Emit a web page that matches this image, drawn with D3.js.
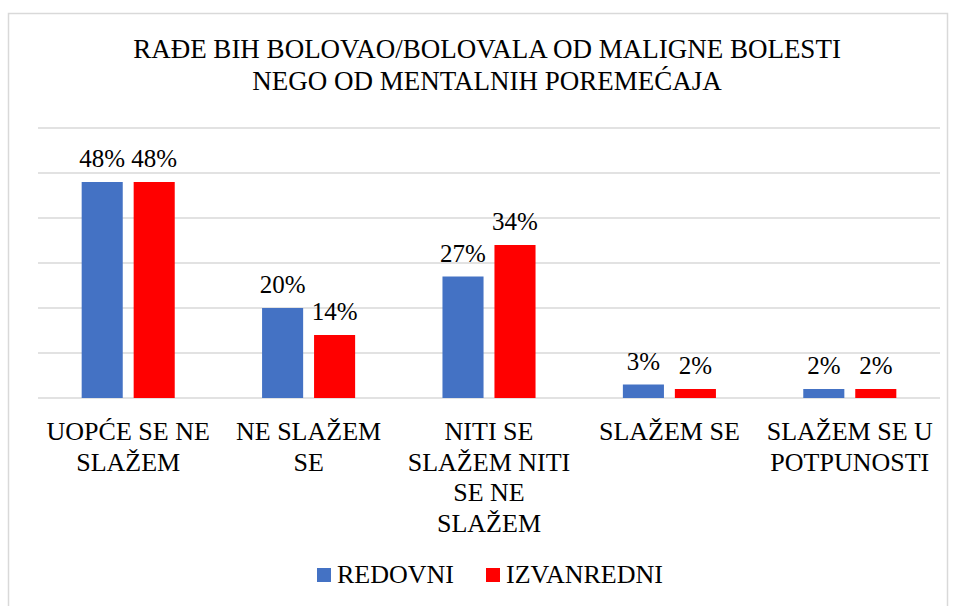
<!DOCTYPE html>
<html>
<head>
<meta charset="utf-8">
<script src="https://cdn.jsdelivr.net/npm/d3@7"></script>
<style>
  body { margin: 0; background: #fff; }
</style>
</head>
<body>
<div id="chart"></div>
<script>
var titleLines = ["RAĐE BIH BOLOVAO/BOLOVALA OD MALIGNE BOLESTI", "NEGO OD MENTALNIH POREMEĆAJA"];
var categories = ["UOPĆE SE NE SLAŽEM", "NE SLAŽEM SE", "NITI SE SLAŽEM NITI SE NE SLAŽEM", "SLAŽEM SE", "SLAŽEM SE U POTPUNOSTI"];
var categoryLines = [
  ["UOPĆE SE NE", "SLAŽEM"],
  ["NE SLAŽEM", "SE"],
  ["NITI SE", "SLAŽEM NITI", "SE NE", "SLAŽEM"],
  ["SLAŽEM SE"],
  ["SLAŽEM SE U", "POTPUNOSTI"]
];
var seriesNames = ["REDOVNI", "IZVANREDNI"];
var seriesColors = ["#4472c4", "#ff0000"];
var redovni = [48, 20, 27, 3, 2];
var izvanredni = [48, 14, 34, 2, 2];
var yTicks = [0, 10, 20, 30, 40, 50, 60];

var FONT = "Liberation Serif";
var width = 956, height = 606;
var svg = d3.select("#chart").append("svg")
    .attr("width", width)
    .attr("height", height)
    .attr("font-family", FONT);

// outer chart border
svg.append("rect")
    .attr("x", 8.5).attr("y", 13.5)
    .attr("width", 939).attr("height", 600)
    .attr("fill", "none")
    .attr("stroke", "#d9d9d9")
    .attr("stroke-width", 1.5);

var plotLeft = 38, plotRight = 940;
var x = d3.scaleBand().domain(categories).range([plotLeft, plotRight]);
var xs = d3.scaleBand().domain(seriesNames).range([0, x.bandwidth()]).paddingInner(0.21).paddingOuter(0.84);
var y = d3.scaleLinear().domain([0, 60]).range([398, 128]);

// gridlines
svg.append("g").selectAll("line")
    .data(yTicks)
  .enter().append("line")
    .attr("x1", plotLeft).attr("x2", plotRight)
    .attr("y1", function(d) { return y(d); })
    .attr("y2", function(d) { return y(d); })
    .attr("stroke", "#d9d9d9")
    .attr("stroke-width", 1.5);

// title
svg.append("g").selectAll("text")
    .data(titleLines)
  .enter().append("text")
    .attr("x", 487)
    .attr("y", function(d, i) { return 58 + i * 32; })
    .attr("text-anchor", "middle")
    .attr("font-size", 27)
    .text(function(d) { return d; });

var series = [redovni, izvanredni];
var groups = svg.append("g").selectAll("g")
    .data(series)
  .enter().append("g");

groups.selectAll("rect")
    .data(function(d, si) { return d.map(function(v, ci) { return { v: v, c: categories[ci], s: si }; }); })
  .enter().append("rect")
    .attr("x", function(d) { return x(d.c) + xs(seriesNames[d.s]); })
    .attr("y", function(d) { return y(d.v); })
    .attr("width", xs.bandwidth())
    .attr("height", function(d) { return y(0) - y(d.v); })
    .attr("fill", function(d) { return seriesColors[d.s]; });

groups.selectAll("text")
    .data(function(d, si) { return d.map(function(v, ci) { return { v: v, c: categories[ci], s: si }; }); })
  .enter().append("text")
    .attr("x", function(d) { return x(d.c) + xs(seriesNames[d.s]) + xs.bandwidth() / 2; })
    .attr("y", function(d) { return y(d.v) - 15; })
    .attr("text-anchor", "middle")
    .attr("font-size", 25)
    .text(function(d) { return d.v + "%"; });

// category labels
var catG = svg.append("g").selectAll("g")
    .data(categories)
  .enter().append("g");

catG.selectAll("text")
    .data(function(d, i) { return categoryLines[i].map(function(t) { return { t: t, c: d }; }); })
  .enter().append("text")
    .attr("x", function(d) { return x(d.c) + x.bandwidth() / 2; })
    .attr("y", function(d, i) { return 440 + i * 30.5; })
    .attr("text-anchor", "middle")
    .attr("font-size", 26)
    .text(function(d) { return d.t; });

// legend
var legendX = [317, 486];
var legend = svg.append("g").selectAll("g")
    .data(seriesNames)
  .enter().append("g")
    .attr("transform", function(d, i) { return "translate(" + legendX[i] + ",0)"; });
legend.append("rect")
    .attr("x", 0).attr("y", 568)
    .attr("width", 14).attr("height", 14)
    .attr("fill", function(d, i) { return seriesColors[i]; });
legend.append("text")
    .attr("x", 20).attr("y", 583)
    .attr("font-size", 26)
    .text(function(d) { return d; });
</script>
</body>
</html>
